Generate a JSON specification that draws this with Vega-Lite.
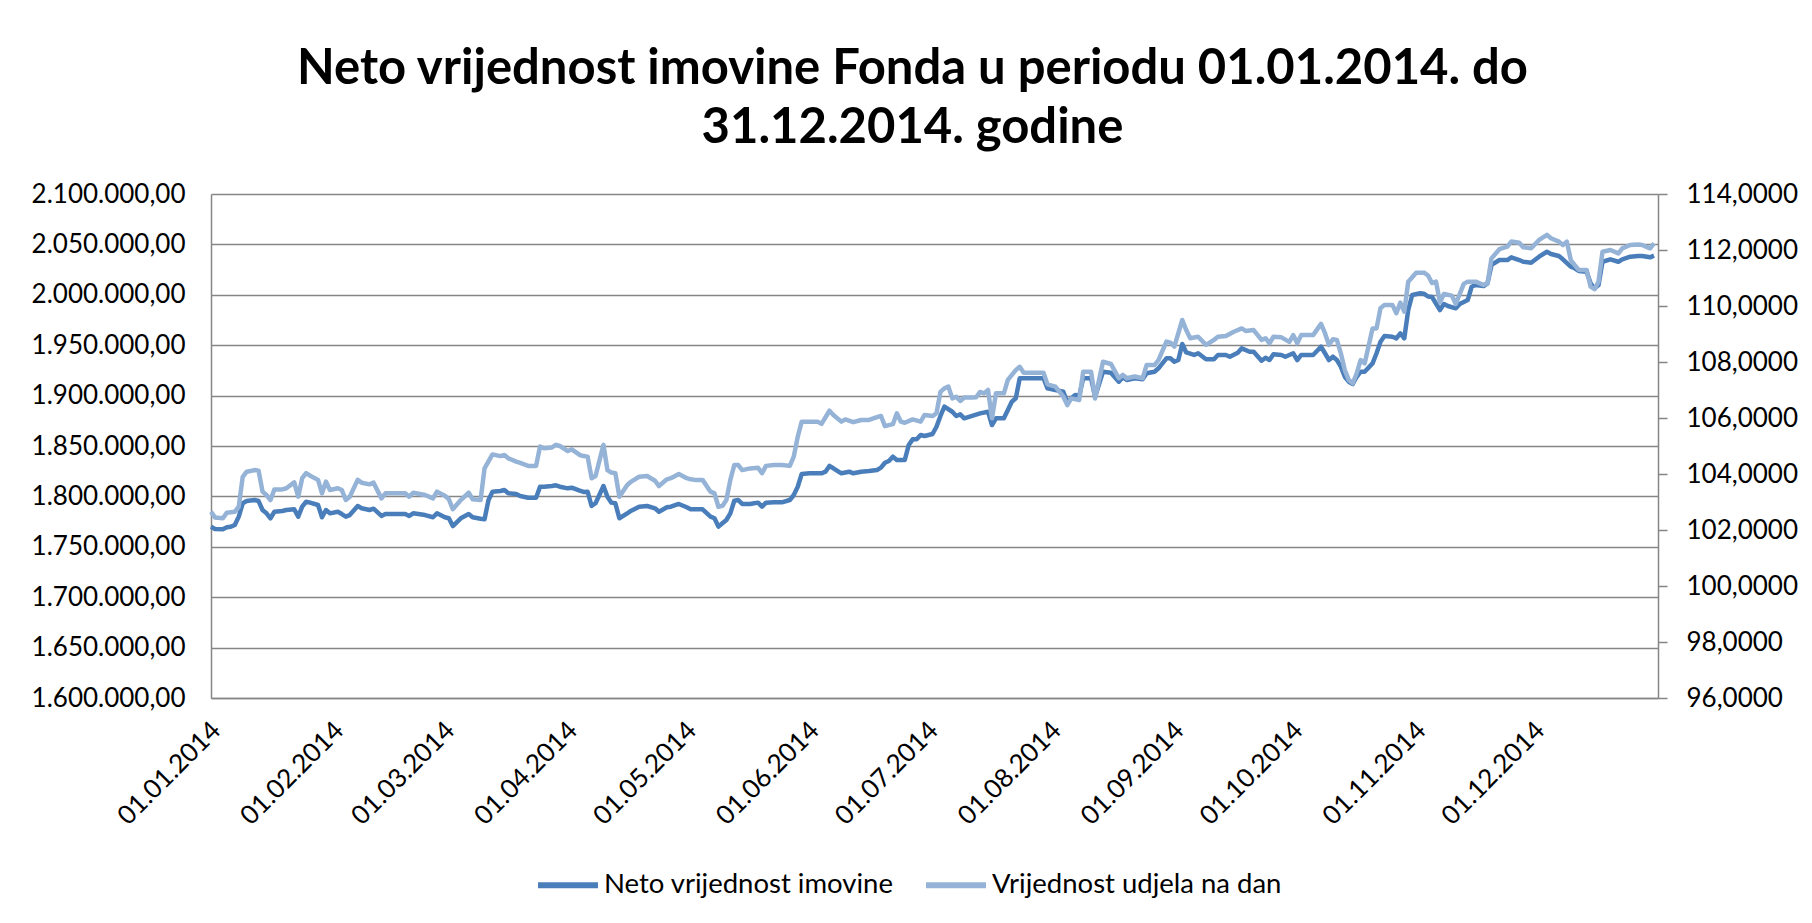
{
  "$schema": "https://vega.github.io/schema/vega-lite/v6.json",
  "width": 1447,
  "height": 504,
  "autosize": {"type": "none"},
  "padding": {"left": 211, "top": 194, "right": 154, "bottom": 225},
  "background": "white",
  "config": {
    "view": {"stroke": null},
    "font": "Lato",
    "locale": {"number": {"decimal": ",", "thousands": ".", "grouping": [3], "currency": ["", ""]}}
  },
  "title": {
    "text": ["Neto vrijednost imovine Fonda u periodu 01.01.2014. do", "31.12.2014. godine"],
    "font": "Lato",
    "fontWeight": "bold",
    "fontSize": 49,
    "lineHeight": 59,
    "color": "#000000",
    "anchor": "middle",
    "dx": -22,
    "offset": 28
  },
  "datasets": {
    "nav": [
      {"d": "2014-01-01", "v": 1770000}, {"d": "2014-01-02", "v": 1767700}, {"d": "2014-01-04", "v": 1767400}, {"d": "2014-01-05", "v": 1769300},
      {"d": "2014-01-06", "v": 1769900}, {"d": "2014-01-07", "v": 1771600}, {"d": "2014-01-08", "v": 1779900}, {"d": "2014-01-09", "v": 1793200},
      {"d": "2014-01-10", "v": 1795400}, {"d": "2014-01-12", "v": 1796400}, {"d": "2014-01-13", "v": 1795400}, {"d": "2014-01-14", "v": 1786500},
      {"d": "2014-01-15", "v": 1783200}, {"d": "2014-01-16", "v": 1778300}, {"d": "2014-01-17", "v": 1784800}, {"d": "2014-01-19", "v": 1785500},
      {"d": "2014-01-20", "v": 1786500}, {"d": "2014-01-22", "v": 1787200}, {"d": "2014-01-23", "v": 1779900}, {"d": "2014-01-24", "v": 1789800},
      {"d": "2014-01-25", "v": 1794700}, {"d": "2014-01-26", "v": 1793800}, {"d": "2014-01-28", "v": 1791500}, {"d": "2014-01-29", "v": 1779300},
      {"d": "2014-01-30", "v": 1786500}, {"d": "2014-01-31", "v": 1783200}, {"d": "2014-02-02", "v": 1784800}, {"d": "2014-02-03", "v": 1782500},
      {"d": "2014-02-04", "v": 1779900}, {"d": "2014-02-05", "v": 1781500}, {"d": "2014-02-07", "v": 1790500}, {"d": "2014-02-08", "v": 1788200},
      {"d": "2014-02-10", "v": 1786500}, {"d": "2014-02-11", "v": 1787800}, {"d": "2014-02-13", "v": 1780600}, {"d": "2014-02-14", "v": 1782500},
      {"d": "2014-02-19", "v": 1782500}, {"d": "2014-02-20", "v": 1780600}, {"d": "2014-02-21", "v": 1783200}, {"d": "2014-02-24", "v": 1781500},
      {"d": "2014-02-26", "v": 1779300}, {"d": "2014-02-27", "v": 1783200}, {"d": "2014-03-01", "v": 1779300}, {"d": "2014-03-02", "v": 1778300},
      {"d": "2014-03-03", "v": 1770600}, {"d": "2014-03-05", "v": 1778300}, {"d": "2014-03-07", "v": 1782500}, {"d": "2014-03-08", "v": 1779300},
      {"d": "2014-03-10", "v": 1777900}, {"d": "2014-03-11", "v": 1777300}, {"d": "2014-03-12", "v": 1796400}, {"d": "2014-03-13", "v": 1804700},
      {"d": "2014-03-15", "v": 1805400}, {"d": "2014-03-16", "v": 1806300}, {"d": "2014-03-17", "v": 1803100}, {"d": "2014-03-19", "v": 1802400},
      {"d": "2014-03-20", "v": 1800400}, {"d": "2014-03-22", "v": 1798700}, {"d": "2014-03-24", "v": 1798700}, {"d": "2014-03-25", "v": 1809600},
      {"d": "2014-03-26", "v": 1809600}, {"d": "2014-03-28", "v": 1810300}, {"d": "2014-03-29", "v": 1811000}, {"d": "2014-03-30", "v": 1809600},
      {"d": "2014-04-01", "v": 1808000}, {"d": "2014-04-02", "v": 1808600}, {"d": "2014-04-04", "v": 1805700}, {"d": "2014-04-05", "v": 1804400},
      {"d": "2014-04-06", "v": 1804700}, {"d": "2014-04-07", "v": 1790500}, {"d": "2014-04-08", "v": 1793200}, {"d": "2014-04-10", "v": 1810300},
      {"d": "2014-04-11", "v": 1799700}, {"d": "2014-04-12", "v": 1793800}, {"d": "2014-04-13", "v": 1793200}, {"d": "2014-04-14", "v": 1778300},
      {"d": "2014-04-16", "v": 1783200}, {"d": "2014-04-17", "v": 1785800}, {"d": "2014-04-19", "v": 1789800}, {"d": "2014-04-21", "v": 1790500},
      {"d": "2014-04-23", "v": 1788200}, {"d": "2014-04-24", "v": 1784800}, {"d": "2014-04-26", "v": 1789200}, {"d": "2014-04-27", "v": 1789800},
      {"d": "2014-04-29", "v": 1792500}, {"d": "2014-05-01", "v": 1789200}, {"d": "2014-05-02", "v": 1787200}, {"d": "2014-05-03", "v": 1787200},
      {"d": "2014-05-05", "v": 1787200}, {"d": "2014-05-07", "v": 1779900}, {"d": "2014-05-08", "v": 1778300}, {"d": "2014-05-09", "v": 1770000},
      {"d": "2014-05-10", "v": 1773300}, {"d": "2014-05-11", "v": 1776600}, {"d": "2014-05-12", "v": 1783200}, {"d": "2014-05-13", "v": 1795700},
      {"d": "2014-05-14", "v": 1796400}, {"d": "2014-05-15", "v": 1792500}, {"d": "2014-05-17", "v": 1792500}, {"d": "2014-05-18", "v": 1793200},
      {"d": "2014-05-19", "v": 1793800}, {"d": "2014-05-20", "v": 1789800}, {"d": "2014-05-21", "v": 1793800}, {"d": "2014-05-23", "v": 1794100},
      {"d": "2014-05-25", "v": 1794100}, {"d": "2014-05-27", "v": 1796400}, {"d": "2014-05-28", "v": 1801400}, {"d": "2014-05-29", "v": 1809600},
      {"d": "2014-05-30", "v": 1822200}, {"d": "2014-06-01", "v": 1822900}, {"d": "2014-06-04", "v": 1822900}, {"d": "2014-06-05", "v": 1824500},
      {"d": "2014-06-06", "v": 1830200}, {"d": "2014-06-07", "v": 1827900}, {"d": "2014-06-09", "v": 1822900}, {"d": "2014-06-11", "v": 1824500},
      {"d": "2014-06-12", "v": 1822900}, {"d": "2014-06-14", "v": 1824500}, {"d": "2014-06-16", "v": 1825200}, {"d": "2014-06-18", "v": 1826200},
      {"d": "2014-06-19", "v": 1828500}, {"d": "2014-06-20", "v": 1833400}, {"d": "2014-06-21", "v": 1835100}, {"d": "2014-06-22", "v": 1839400},
      {"d": "2014-06-23", "v": 1836100}, {"d": "2014-06-25", "v": 1836100}, {"d": "2014-06-26", "v": 1851000}, {"d": "2014-06-27", "v": 1856600},
      {"d": "2014-06-28", "v": 1856600}, {"d": "2014-06-29", "v": 1860900}, {"d": "2014-06-30", "v": 1859900}, {"d": "2014-07-02", "v": 1861900},
      {"d": "2014-07-03", "v": 1869100}, {"d": "2014-07-04", "v": 1879800}, {"d": "2014-07-05", "v": 1889000}, {"d": "2014-07-07", "v": 1884000},
      {"d": "2014-07-08", "v": 1879800}, {"d": "2014-07-09", "v": 1881400}, {"d": "2014-07-10", "v": 1877500}, {"d": "2014-07-12", "v": 1879900},
      {"d": "2014-07-14", "v": 1882400}, {"d": "2014-07-16", "v": 1884000}, {"d": "2014-07-17", "v": 1870800}, {"d": "2014-07-18", "v": 1877500},
      {"d": "2014-07-20", "v": 1877500}, {"d": "2014-07-21", "v": 1885700}, {"d": "2014-07-22", "v": 1893900}, {"d": "2014-07-23", "v": 1897300},
      {"d": "2014-07-24", "v": 1917200}, {"d": "2014-07-26", "v": 1917200}, {"d": "2014-07-28", "v": 1917200}, {"d": "2014-07-30", "v": 1917200},
      {"d": "2014-07-31", "v": 1907200}, {"d": "2014-08-02", "v": 1905600}, {"d": "2014-08-04", "v": 1903900}, {"d": "2014-08-05", "v": 1893000},
      {"d": "2014-08-06", "v": 1897300}, {"d": "2014-08-07", "v": 1900600}, {"d": "2014-08-08", "v": 1899600}, {"d": "2014-08-09", "v": 1917200},
      {"d": "2014-08-11", "v": 1917200}, {"d": "2014-08-12", "v": 1898900}, {"d": "2014-08-14", "v": 1923700}, {"d": "2014-08-16", "v": 1922700},
      {"d": "2014-08-18", "v": 1913800}, {"d": "2014-08-19", "v": 1918100}, {"d": "2014-08-20", "v": 1915500}, {"d": "2014-08-22", "v": 1917200},
      {"d": "2014-08-24", "v": 1916200}, {"d": "2014-08-25", "v": 1922100}, {"d": "2014-08-27", "v": 1923700}, {"d": "2014-08-28", "v": 1927100},
      {"d": "2014-08-30", "v": 1937000}, {"d": "2014-08-31", "v": 1937000}, {"d": "2014-09-01", "v": 1933600}, {"d": "2014-09-02", "v": 1935300},
      {"d": "2014-09-03", "v": 1951200}, {"d": "2014-09-04", "v": 1942800}, {"d": "2014-09-06", "v": 1940300}, {"d": "2014-09-07", "v": 1942000},
      {"d": "2014-09-09", "v": 1936000}, {"d": "2014-09-11", "v": 1936000}, {"d": "2014-09-12", "v": 1940300}, {"d": "2014-09-14", "v": 1940300},
      {"d": "2014-09-15", "v": 1938600}, {"d": "2014-09-17", "v": 1942600}, {"d": "2014-09-18", "v": 1946900}, {"d": "2014-09-20", "v": 1943500},
      {"d": "2014-09-21", "v": 1943500}, {"d": "2014-09-23", "v": 1934600}, {"d": "2014-09-24", "v": 1937600}, {"d": "2014-09-25", "v": 1935300},
      {"d": "2014-09-26", "v": 1941000}, {"d": "2014-09-28", "v": 1940300}, {"d": "2014-09-29", "v": 1938600}, {"d": "2014-10-01", "v": 1942000},
      {"d": "2014-10-02", "v": 1935300}, {"d": "2014-10-03", "v": 1940300}, {"d": "2014-10-04", "v": 1940300}, {"d": "2014-10-06", "v": 1940300},
      {"d": "2014-10-08", "v": 1948500}, {"d": "2014-10-09", "v": 1942000}, {"d": "2014-10-10", "v": 1935300}, {"d": "2014-10-11", "v": 1938600},
      {"d": "2014-10-12", "v": 1935300}, {"d": "2014-10-13", "v": 1928700}, {"d": "2014-10-14", "v": 1918700}, {"d": "2014-10-15", "v": 1913800},
      {"d": "2014-10-16", "v": 1911500}, {"d": "2014-10-17", "v": 1918700}, {"d": "2014-10-18", "v": 1923700}, {"d": "2014-10-19", "v": 1923700},
      {"d": "2014-10-21", "v": 1932000}, {"d": "2014-10-22", "v": 1942000}, {"d": "2014-10-23", "v": 1953500}, {"d": "2014-10-24", "v": 1959100},
      {"d": "2014-10-26", "v": 1958400}, {"d": "2014-10-27", "v": 1956800}, {"d": "2014-10-28", "v": 1961800}, {"d": "2014-10-29", "v": 1956800},
      {"d": "2014-10-30", "v": 1984900}, {"d": "2014-10-31", "v": 1999800}, {"d": "2014-11-02", "v": 2001500}, {"d": "2014-11-03", "v": 2001000},
      {"d": "2014-11-04", "v": 1998300}, {"d": "2014-11-05", "v": 1997800}, {"d": "2014-11-07", "v": 1984900}, {"d": "2014-11-08", "v": 1990900},
      {"d": "2014-11-09", "v": 1988900}, {"d": "2014-11-11", "v": 1986600}, {"d": "2014-11-12", "v": 1990900}, {"d": "2014-11-14", "v": 1994800},
      {"d": "2014-11-15", "v": 2008000}, {"d": "2014-11-16", "v": 2009700}, {"d": "2014-11-18", "v": 2008700}, {"d": "2014-11-19", "v": 2011400},
      {"d": "2014-11-20", "v": 2029600}, {"d": "2014-11-22", "v": 2034500}, {"d": "2014-11-24", "v": 2034500}, {"d": "2014-11-25", "v": 2037200},
      {"d": "2014-11-27", "v": 2034500}, {"d": "2014-11-28", "v": 2032800}, {"d": "2014-11-30", "v": 2031800}, {"d": "2014-12-02", "v": 2037800},
      {"d": "2014-12-04", "v": 2042700}, {"d": "2014-12-05", "v": 2040500}, {"d": "2014-12-07", "v": 2038500}, {"d": "2014-12-08", "v": 2035200},
      {"d": "2014-12-10", "v": 2027900}, {"d": "2014-12-11", "v": 2026300}, {"d": "2014-12-12", "v": 2023600}, {"d": "2014-12-14", "v": 2022900},
      {"d": "2014-12-15", "v": 2011400}, {"d": "2014-12-16", "v": 2006400}, {"d": "2014-12-17", "v": 2009700}, {"d": "2014-12-18", "v": 2032800},
      {"d": "2014-12-20", "v": 2035200}, {"d": "2014-12-22", "v": 2032800}, {"d": "2014-12-23", "v": 2035200}, {"d": "2014-12-25", "v": 2037800},
      {"d": "2014-12-27", "v": 2038500}, {"d": "2014-12-28", "v": 2038500}, {"d": "2014-12-30", "v": 2037200}, {"d": "2014-12-31", "v": 2038800}
    ],
    "unit": [
      {"d": "2014-01-01", "v": 102.65}, {"d": "2014-01-02", "v": 102.45}, {"d": "2014-01-04", "v": 102.42}, {"d": "2014-01-05", "v": 102.62},
      {"d": "2014-01-07", "v": 102.65}, {"d": "2014-01-08", "v": 102.83}, {"d": "2014-01-09", "v": 103.90}, {"d": "2014-01-10", "v": 104.08},
      {"d": "2014-01-12", "v": 104.14}, {"d": "2014-01-13", "v": 104.12}, {"d": "2014-01-14", "v": 103.37}, {"d": "2014-01-15", "v": 103.25},
      {"d": "2014-01-16", "v": 103.07}, {"d": "2014-01-17", "v": 103.45}, {"d": "2014-01-19", "v": 103.45}, {"d": "2014-01-20", "v": 103.49},
      {"d": "2014-01-22", "v": 103.70}, {"d": "2014-01-23", "v": 103.19}, {"d": "2014-01-24", "v": 103.85}, {"d": "2014-01-25", "v": 104.03},
      {"d": "2014-01-26", "v": 103.94}, {"d": "2014-01-28", "v": 103.79}, {"d": "2014-01-29", "v": 103.31}, {"d": "2014-01-30", "v": 103.73},
      {"d": "2014-01-31", "v": 103.43}, {"d": "2014-02-02", "v": 103.49}, {"d": "2014-02-03", "v": 103.43}, {"d": "2014-02-04", "v": 103.07},
      {"d": "2014-02-05", "v": 103.19}, {"d": "2014-02-07", "v": 103.79}, {"d": "2014-02-08", "v": 103.69}, {"d": "2014-02-10", "v": 103.63},
      {"d": "2014-02-11", "v": 103.69}, {"d": "2014-02-13", "v": 103.13}, {"d": "2014-02-14", "v": 103.31}, {"d": "2014-02-19", "v": 103.31},
      {"d": "2014-02-20", "v": 103.19}, {"d": "2014-02-21", "v": 103.33}, {"d": "2014-02-24", "v": 103.25}, {"d": "2014-02-26", "v": 103.13},
      {"d": "2014-02-27", "v": 103.37}, {"d": "2014-03-01", "v": 103.22}, {"d": "2014-03-02", "v": 103.10}, {"d": "2014-03-03", "v": 102.74},
      {"d": "2014-03-05", "v": 103.07}, {"d": "2014-03-07", "v": 103.33}, {"d": "2014-03-08", "v": 103.10}, {"d": "2014-03-10", "v": 103.07},
      {"d": "2014-03-11", "v": 104.20}, {"d": "2014-03-13", "v": 104.70}, {"d": "2014-03-15", "v": 104.64}, {"d": "2014-03-16", "v": 104.68},
      {"d": "2014-03-17", "v": 104.56}, {"d": "2014-03-19", "v": 104.44}, {"d": "2014-03-20", "v": 104.40}, {"d": "2014-03-22", "v": 104.29},
      {"d": "2014-03-24", "v": 104.29}, {"d": "2014-03-25", "v": 104.98}, {"d": "2014-03-26", "v": 104.92}, {"d": "2014-03-28", "v": 104.95},
      {"d": "2014-03-29", "v": 105.04}, {"d": "2014-03-30", "v": 105.00}, {"d": "2014-04-01", "v": 104.82}, {"d": "2014-04-02", "v": 104.88},
      {"d": "2014-04-04", "v": 104.68}, {"d": "2014-04-05", "v": 104.64}, {"d": "2014-04-06", "v": 104.62}, {"d": "2014-04-07", "v": 103.85},
      {"d": "2014-04-08", "v": 103.93}, {"d": "2014-04-10", "v": 105.04}, {"d": "2014-04-11", "v": 104.14}, {"d": "2014-04-12", "v": 104.05},
      {"d": "2014-04-13", "v": 104.03}, {"d": "2014-04-14", "v": 103.19}, {"d": "2014-04-16", "v": 103.61}, {"d": "2014-04-17", "v": 103.73},
      {"d": "2014-04-19", "v": 103.90}, {"d": "2014-04-21", "v": 103.93}, {"d": "2014-04-23", "v": 103.76}, {"d": "2014-04-24", "v": 103.57},
      {"d": "2014-04-26", "v": 103.81}, {"d": "2014-04-27", "v": 103.85}, {"d": "2014-04-29", "v": 104.00}, {"d": "2014-05-01", "v": 103.85},
      {"d": "2014-05-02", "v": 103.81}, {"d": "2014-05-03", "v": 103.79}, {"d": "2014-05-05", "v": 103.79}, {"d": "2014-05-07", "v": 103.37},
      {"d": "2014-05-08", "v": 103.31}, {"d": "2014-05-09", "v": 102.83}, {"d": "2014-05-10", "v": 102.86}, {"d": "2014-05-11", "v": 103.07},
      {"d": "2014-05-12", "v": 103.79}, {"d": "2014-05-13", "v": 104.32}, {"d": "2014-05-14", "v": 104.32}, {"d": "2014-05-15", "v": 104.14},
      {"d": "2014-05-17", "v": 104.20}, {"d": "2014-05-19", "v": 104.22}, {"d": "2014-05-20", "v": 104.03}, {"d": "2014-05-21", "v": 104.29},
      {"d": "2014-05-23", "v": 104.32}, {"d": "2014-05-25", "v": 104.32}, {"d": "2014-05-27", "v": 104.29}, {"d": "2014-05-28", "v": 104.62},
      {"d": "2014-05-29", "v": 105.33}, {"d": "2014-05-30", "v": 105.87}, {"d": "2014-06-01", "v": 105.87}, {"d": "2014-06-03", "v": 105.87},
      {"d": "2014-06-04", "v": 105.79}, {"d": "2014-06-06", "v": 106.26}, {"d": "2014-06-07", "v": 106.11}, {"d": "2014-06-09", "v": 105.87},
      {"d": "2014-06-10", "v": 105.95}, {"d": "2014-06-12", "v": 105.85}, {"d": "2014-06-14", "v": 105.93}, {"d": "2014-06-16", "v": 105.93},
      {"d": "2014-06-18", "v": 106.03}, {"d": "2014-06-19", "v": 106.07}, {"d": "2014-06-20", "v": 105.71}, {"d": "2014-06-22", "v": 105.78},
      {"d": "2014-06-23", "v": 106.17}, {"d": "2014-06-24", "v": 105.87}, {"d": "2014-06-25", "v": 105.83}, {"d": "2014-06-27", "v": 105.95},
      {"d": "2014-06-29", "v": 105.87}, {"d": "2014-06-30", "v": 106.11}, {"d": "2014-07-02", "v": 106.07}, {"d": "2014-07-03", "v": 106.17},
      {"d": "2014-07-04", "v": 106.93}, {"d": "2014-07-05", "v": 107.06}, {"d": "2014-07-06", "v": 107.12}, {"d": "2014-07-07", "v": 106.70},
      {"d": "2014-07-08", "v": 106.76}, {"d": "2014-07-09", "v": 106.61}, {"d": "2014-07-10", "v": 106.73}, {"d": "2014-07-12", "v": 106.73},
      {"d": "2014-07-13", "v": 106.74}, {"d": "2014-07-14", "v": 106.93}, {"d": "2014-07-15", "v": 106.88}, {"d": "2014-07-16", "v": 107.00},
      {"d": "2014-07-17", "v": 105.99}, {"d": "2014-07-18", "v": 106.88}, {"d": "2014-07-20", "v": 106.88}, {"d": "2014-07-21", "v": 107.36},
      {"d": "2014-07-23", "v": 107.71}, {"d": "2014-07-24", "v": 107.83}, {"d": "2014-07-25", "v": 107.62}, {"d": "2014-07-28", "v": 107.62},
      {"d": "2014-07-30", "v": 107.62}, {"d": "2014-07-31", "v": 107.20}, {"d": "2014-08-02", "v": 107.12}, {"d": "2014-08-04", "v": 106.76},
      {"d": "2014-08-05", "v": 106.46}, {"d": "2014-08-06", "v": 106.70}, {"d": "2014-08-08", "v": 106.64}, {"d": "2014-08-09", "v": 107.65},
      {"d": "2014-08-11", "v": 107.65}, {"d": "2014-08-12", "v": 106.70}, {"d": "2014-08-14", "v": 108.01}, {"d": "2014-08-16", "v": 107.93},
      {"d": "2014-08-18", "v": 107.42}, {"d": "2014-08-19", "v": 107.54}, {"d": "2014-08-20", "v": 107.42}, {"d": "2014-08-22", "v": 107.48},
      {"d": "2014-08-24", "v": 107.42}, {"d": "2014-08-25", "v": 107.89}, {"d": "2014-08-27", "v": 107.89}, {"d": "2014-08-28", "v": 108.07},
      {"d": "2014-08-30", "v": 108.73}, {"d": "2014-08-31", "v": 108.69}, {"d": "2014-09-01", "v": 108.55}, {"d": "2014-09-03", "v": 109.50},
      {"d": "2014-09-04", "v": 109.14}, {"d": "2014-09-05", "v": 108.85}, {"d": "2014-09-07", "v": 108.90}, {"d": "2014-09-09", "v": 108.61},
      {"d": "2014-09-11", "v": 108.79}, {"d": "2014-09-12", "v": 108.90}, {"d": "2014-09-14", "v": 108.93}, {"d": "2014-09-16", "v": 109.08},
      {"d": "2014-09-18", "v": 109.20}, {"d": "2014-09-19", "v": 109.11}, {"d": "2014-09-21", "v": 109.14}, {"d": "2014-09-23", "v": 108.79},
      {"d": "2014-09-24", "v": 108.85}, {"d": "2014-09-25", "v": 108.67}, {"d": "2014-09-26", "v": 108.90}, {"d": "2014-09-28", "v": 108.88},
      {"d": "2014-09-30", "v": 108.72}, {"d": "2014-10-01", "v": 108.96}, {"d": "2014-10-02", "v": 108.67}, {"d": "2014-10-03", "v": 108.96},
      {"d": "2014-10-04", "v": 108.96}, {"d": "2014-10-06", "v": 108.96}, {"d": "2014-10-08", "v": 109.36}, {"d": "2014-10-09", "v": 109.03},
      {"d": "2014-10-10", "v": 108.61}, {"d": "2014-10-11", "v": 108.81}, {"d": "2014-10-12", "v": 108.79}, {"d": "2014-10-13", "v": 108.31},
      {"d": "2014-10-14", "v": 107.71}, {"d": "2014-10-15", "v": 107.36}, {"d": "2014-10-16", "v": 107.24}, {"d": "2014-10-17", "v": 107.60},
      {"d": "2014-10-18", "v": 108.07}, {"d": "2014-10-19", "v": 107.95}, {"d": "2014-10-21", "v": 109.20}, {"d": "2014-10-22", "v": 109.20},
      {"d": "2014-10-23", "v": 109.92}, {"d": "2014-10-24", "v": 110.04}, {"d": "2014-10-26", "v": 110.04}, {"d": "2014-10-27", "v": 109.74},
      {"d": "2014-10-28", "v": 110.12}, {"d": "2014-10-29", "v": 109.80}, {"d": "2014-10-30", "v": 110.87}, {"d": "2014-11-01", "v": 111.19},
      {"d": "2014-11-02", "v": 111.19}, {"d": "2014-11-03", "v": 111.19}, {"d": "2014-11-04", "v": 111.09}, {"d": "2014-11-05", "v": 110.82},
      {"d": "2014-11-06", "v": 110.87}, {"d": "2014-11-07", "v": 110.13}, {"d": "2014-11-08", "v": 110.43}, {"d": "2014-11-10", "v": 110.37},
      {"d": "2014-11-11", "v": 110.07}, {"d": "2014-11-13", "v": 110.79}, {"d": "2014-11-14", "v": 110.87}, {"d": "2014-11-16", "v": 110.87},
      {"d": "2014-11-18", "v": 110.75}, {"d": "2014-11-19", "v": 110.81}, {"d": "2014-11-20", "v": 111.70}, {"d": "2014-11-22", "v": 112.03},
      {"d": "2014-11-24", "v": 112.12}, {"d": "2014-11-25", "v": 112.30}, {"d": "2014-11-27", "v": 112.26}, {"d": "2014-11-28", "v": 112.10},
      {"d": "2014-11-30", "v": 112.06}, {"d": "2014-12-02", "v": 112.36}, {"d": "2014-12-04", "v": 112.54}, {"d": "2014-12-05", "v": 112.42},
      {"d": "2014-12-07", "v": 112.30}, {"d": "2014-12-08", "v": 112.18}, {"d": "2014-12-09", "v": 112.30}, {"d": "2014-12-10", "v": 111.64},
      {"d": "2014-12-11", "v": 111.46}, {"d": "2014-12-12", "v": 111.29}, {"d": "2014-12-14", "v": 111.29}, {"d": "2014-12-15", "v": 110.69},
      {"d": "2014-12-16", "v": 110.60}, {"d": "2014-12-17", "v": 110.87}, {"d": "2014-12-18", "v": 111.94}, {"d": "2014-12-20", "v": 112.00},
      {"d": "2014-12-22", "v": 111.88}, {"d": "2014-12-23", "v": 112.06}, {"d": "2014-12-25", "v": 112.18}, {"d": "2014-12-27", "v": 112.20},
      {"d": "2014-12-28", "v": 112.18}, {"d": "2014-12-30", "v": 112.06}, {"d": "2014-12-31", "v": 112.24}
    ]
  },
  "encoding": {
    "x": {
      "field": "d",
      "type": "temporal",
      "scale": {
        "type": "utc",
        "domain": [{"year": 2014, "month": 1, "date": 1, "utc": true}, {"year": 2015, "month": 1, "date": 1, "utc": true}]
      },
      "axis": {
        "title": null,
        "orient": "bottom",
        "values": [
          {"year": 2014, "month": 1, "date": 1, "utc": true}, {"year": 2014, "month": 2, "date": 1, "utc": true},
          {"year": 2014, "month": 3, "date": 1, "utc": true}, {"year": 2014, "month": 4, "date": 1, "utc": true},
          {"year": 2014, "month": 5, "date": 1, "utc": true}, {"year": 2014, "month": 6, "date": 1, "utc": true},
          {"year": 2014, "month": 7, "date": 1, "utc": true}, {"year": 2014, "month": 8, "date": 1, "utc": true},
          {"year": 2014, "month": 9, "date": 1, "utc": true}, {"year": 2014, "month": 10, "date": 1, "utc": true},
          {"year": 2014, "month": 11, "date": 1, "utc": true}, {"year": 2014, "month": 12, "date": 1, "utc": true}
        ],
        "format": "%d.%m.%Y",
        "labelAngle": -45,
        "labelAlign": "right",
        "labelBaseline": "middle",
        "labelPadding": 28,
        "labelOffset": 5,
        "labelFont": "Lato",
        "labelFontSize": 26,
        "labelColor": "#000000",
        "labelOverlap": false,
        "labelFlush": false,
        "ticks": false,
        "grid": false,
        "domainColor": "#868686",
        "domainWidth": 1.5
      }
    }
  },
  "layer": [
    {
      "data": {"name": "nav"},
      "mark": {"type": "line", "strokeWidth": 4.5, "strokeJoin": "round"},
      "encoding": {
        "y": {
          "field": "v",
          "type": "quantitative",
          "scale": {"domain": [1600000, 2100000], "nice": false, "zero": false},
          "axis": {
            "title": null,
            "orient": "left",
            "values": [1600000, 1650000, 1700000, 1750000, 1800000, 1850000, 1900000, 1950000, 2000000, 2050000, 2100000],
            "format": ",.2f",
            "labelFont": "Lato",
            "labelFontSize": 26,
            "labelColor": "#000000",
            "labelPadding": 26,
            "ticks": false,
            "grid": true,
            "gridColor": "#868686",
            "gridWidth": 1.5,
            "domainColor": "#868686",
            "domainWidth": 1.5
          }
        },
        "color": {
          "datum": "Neto vrijednost imovine",
          "type": "nominal",
          "scale": {"domain": ["Neto vrijednost imovine", "Vrijednost udjela na dan"], "range": ["#4A7EBB", "#95B3D7"]},
          "legend": {
            "title": null,
            "orient": "none",
            "direction": "horizontal",
            "legendX": 324,
            "legendY": 658,
            "symbolType": "stroke",
            "symbolStrokeWidth": 6,
            "symbolSize": 3600,
            "labelFont": "Lato",
            "labelFontSize": 27.5,
            "labelColor": "#000000",
            "labelOffset": 3,
            "labelLimit": 0,
            "columnPadding": 20
          }
        }
      }
    },
    {
      "data": {"name": "unit"},
      "mark": {"type": "line", "strokeWidth": 4.5, "strokeJoin": "round"},
      "encoding": {
        "y": {
          "field": "v",
          "type": "quantitative",
          "scale": {"domain": [96, 114], "nice": false, "zero": false},
          "axis": {
            "title": null,
            "orient": "right",
            "values": [96, 98, 100, 102, 104, 106, 108, 110, 112, 114],
            "format": ".4f",
            "labelFont": "Lato",
            "labelFontSize": 26,
            "labelColor": "#000000",
            "labelPadding": 19,
            "ticks": true,
            "tickSize": 9,
            "tickColor": "#868686",
            "tickWidth": 1.5,
            "grid": false,
            "domainColor": "#868686",
            "domainWidth": 1.5
          }
        },
        "color": {
          "datum": "Vrijednost udjela na dan",
          "type": "nominal"
        }
      }
    }
  ],
  "resolve": {"scale": {"y": "independent"}}
}
